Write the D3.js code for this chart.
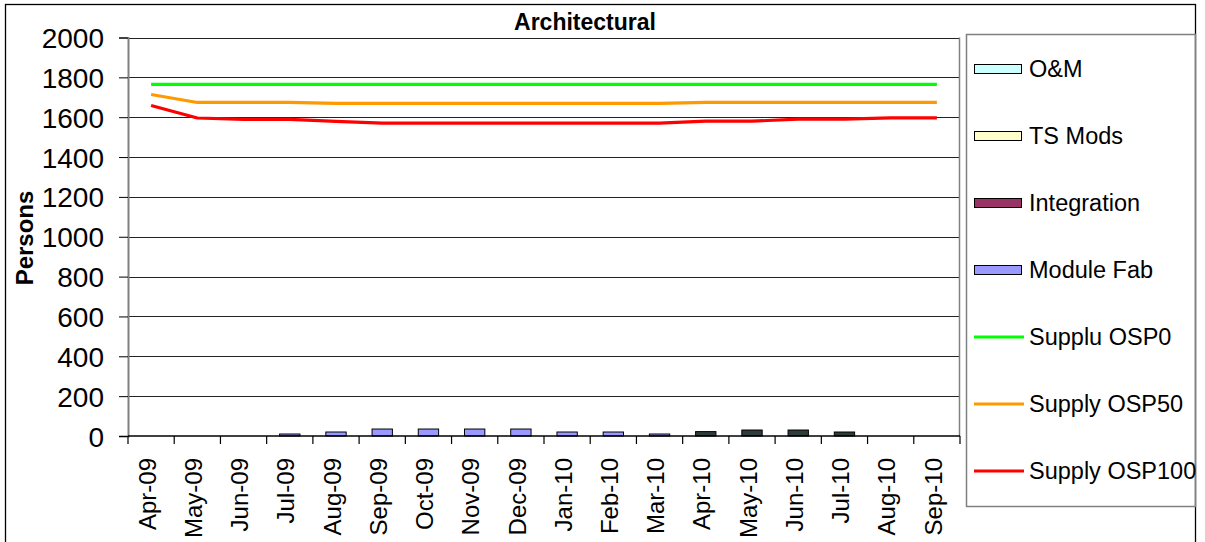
<!DOCTYPE html>
<html>
<head>
<meta charset="utf-8">
<script src="https://cdn.jsdelivr.net/npm/d3@7"></script>
<style>
  body { margin: 0; background: #fff; }
  svg text { font-family: "Liberation Sans", Arial, sans-serif; fill: #000; }
</style>
</head>
<body>
<div id="chart"></div>
<script>
// data
var months = ["Apr-09", "May-09", "Jun-09", "Jul-09", "Aug-09", "Sep-09", "Oct-09", "Nov-09", "Dec-09",
  "Jan-10", "Feb-10", "Mar-10", "Apr-10", "May-10", "Jun-10", "Jul-10", "Aug-10", "Sep-10"];
var omVals        = [0, 0, 0, 0, 0, 0, 0, 0, 0, 0, 0, 0, 0, 0, 0, 0, 0, 0];
var tsModsVals    = [0, 0, 0, 0, 0, 0, 0, 0, 0, 0, 0, 0, 0, 0, 0, 0, 0, 0];
var integVals     = [0, 0, 0, 0, 0, 0, 0, 0, 0, 0, 0, 0, 0, 0, 0, 0, 0, 0];
var moduleFabVals = [0, 0, 0, 10, 20, 35, 35, 35, 35, 20, 20, 10, 0, 0, 0, 0, 0, 0];
var otherVals     = [0, 0, 0, 0, 0, 0, 0, 0, 0, 0, 0, 0, 22, 30, 30, 20, 0, 0];
var osp0Vals   = [1765, 1765, 1765, 1765, 1765, 1765, 1765, 1765, 1765, 1765, 1765, 1765, 1765, 1765, 1765, 1765, 1765, 1765];
var osp50Vals  = [1714, 1674, 1674, 1674, 1669, 1669, 1669, 1669, 1669, 1669, 1669, 1669, 1674, 1674, 1674, 1674, 1674, 1674];
var osp100Vals = [1659, 1596, 1589, 1589, 1579, 1570, 1570, 1570, 1570, 1570, 1570, 1570, 1580, 1580, 1590, 1590, 1597, 1597];
var yTicks = [0, 200, 400, 600, 800, 1000, 1200, 1400, 1600, 1800, 2000];

var svgWidth = 1205;
var svgHeight = 542;
var plot = { left: 128, right: 960, top: 37.5, bottom: 436 };

var svg = d3.select("#chart")
  .append("svg")
  .attr("width", svgWidth)
  .attr("height", svgHeight);

// outer chart border
svg.append("rect")
  .attr("x", 5.5).attr("y", 4.5)
  .attr("width", 1190).attr("height", 600)
  .attr("fill", "none").attr("stroke", "#000").attr("stroke-width", 1.3);

var x = d3.scaleBand()
  .domain(months)
  .range([plot.left, plot.right])
  .paddingInner(0).paddingOuter(0);

var y = d3.scaleLinear()
  .domain([0, 2000])
  .range([plot.bottom, plot.top]);

// gridlines
svg.append("g")
  .selectAll("line")
  .data(yTicks.filter(d => d > 0))
  .enter()
  .append("line")
  .attr("x1", plot.left).attr("x2", plot.right)
  .attr("y1", d => Math.round(y(d)) + 0.5).attr("y2", d => Math.round(y(d)) + 0.5)
  .attr("stroke", "#222").attr("stroke-width", 1);

// plot area right border
svg.append("line")
  .attr("x1", plot.right - 0.5).attr("x2", plot.right - 0.5)
  .attr("y1", y(2000)).attr("y2", plot.bottom)
  .attr("stroke", "#808080").attr("stroke-width", 1.5);

// stacked bars
var barKeys = ["om", "ts", "integ", "fab", "other"];
var barColors = { om: "#CCFFFF", ts: "#FFFFCC", integ: "#993366", fab: "#9999FF", other: "#2f3c3c" };
var table = months.map(function(m, i) {
  return { month: m, om: omVals[i], ts: tsModsVals[i], integ: integVals[i], fab: moduleFabVals[i], other: otherVals[i] };
});
var stacked = d3.stack().keys(barKeys)(table);
var barW = x.bandwidth() * 0.44;

svg.append("g")
  .selectAll("g")
  .data(stacked)
  .enter()
  .append("g")
  .attr("fill", d => barColors[d.key])
  .selectAll("rect")
  .data(d => d.filter(s => s[1] - s[0] > 0))
  .enter()
  .append("rect")
  .attr("x", d => x(d.data.month) + (x.bandwidth() - barW) / 2)
  .attr("y", d => y(d[1]))
  .attr("width", barW)
  .attr("height", d => y(d[0]) - y(d[1]))
  .attr("stroke", "#000")
  .attr("stroke-width", 1);

// supply lines
var lineSeries = [
  { vals: osp0Vals, color: "#00FF00" },
  { vals: osp50Vals, color: "#FF9900" },
  { vals: osp100Vals, color: "#FF0000" }
];
var line = d3.line()
  .x((d, i) => x(months[i]) + x.bandwidth() / 2)
  .y(d => y(d));

svg.append("g")
  .selectAll("path")
  .data(lineSeries)
  .enter()
  .append("path")
  .attr("d", d => line(d.vals))
  .attr("fill", "none")
  .attr("stroke", d => d.color)
  .attr("stroke-width", 3.2)
  .attr("stroke-linejoin", "round");

// y axis
var leftAxis = d3.axisLeft(y).tickValues(yTicks).tickSize(9).tickPadding(15).tickFormat(d3.format("d"));
var yAxisG = svg.append("g")
  .attr("transform", `translate(${plot.left}, 0)`)
  .call(leftAxis);
yAxisG.select(".domain").attr("stroke", "#808080").attr("stroke-width", 2);
yAxisG.selectAll(".tick line").attr("stroke", "#000");
yAxisG.selectAll("text")
  .style("font-size", "28px")
  .attr("dy", "0.36em");

// x axis baseline and ticks at category edges
svg.append("line")
  .attr("x1", plot.left).attr("x2", plot.right)
  .attr("y1", plot.bottom).attr("y2", plot.bottom)
  .attr("stroke", "#000").attr("stroke-width", 1.3);

var edges = months.map(m => x(m)).concat([plot.right]);
svg.append("g")
  .selectAll("line")
  .data(edges)
  .enter()
  .append("line")
  .attr("x1", d => d).attr("x2", d => d)
  .attr("y1", plot.bottom).attr("y2", plot.bottom + 8)
  .attr("stroke", "#000").attr("stroke-width", 1.2);

svg.append("g")
  .selectAll("text")
  .data(months)
  .enter()
  .append("text")
  .attr("transform", d => `translate(${x(d) + x.bandwidth() / 2 - 4}, 458) rotate(-90)`)
  .attr("dy", "0.36em")
  .style("text-anchor", "end")
  .style("font-size", "24px")
  .text(d => d);

// title and axis label
svg.append("text")
  .attr("x", 585).attr("y", 30)
  .style("text-anchor", "middle")
  .style("font-size", "23px")
  .style("font-weight", "bold")
  .text("Architectural");

svg.append("text")
  .attr("transform", "translate(33, 238) rotate(-90)")
  .style("text-anchor", "middle")
  .style("font-size", "24px")
  .style("font-weight", "bold")
  .text("Persons");

// legend
svg.append("rect")
  .attr("x", 966.5).attr("y", 34.5)
  .attr("width", 229).attr("height", 472)
  .attr("fill", "none").attr("stroke", "#808080").attr("stroke-width", 1.5);

var legendItems = [
  { name: "O&M", type: "bar", color: barColors.om },
  { name: "TS Mods", type: "bar", color: barColors.ts },
  { name: "Integration", type: "bar", color: barColors.integ },
  { name: "Module Fab", type: "bar", color: barColors.fab },
  { name: "Supplu OSP0", type: "line", color: "#00FF00" },
  { name: "Supply OSP50", type: "line", color: "#FF9900" },
  { name: "Supply OSP100", type: "line", color: "#FF0000" }
];

var legend = svg.append("g")
  .selectAll("g")
  .data(legendItems)
  .enter()
  .append("g")
  .attr("transform", (d, i) => `translate(0, ${69 + i * 67})`);

legend.filter(d => d.type === "bar")
  .append("rect")
  .attr("x", 974.5).attr("y", -4.5)
  .attr("width", 47).attr("height", 9)
  .attr("fill", d => d.color)
  .attr("stroke", "#000").attr("stroke-width", 1);

legend.filter(d => d.type === "line")
  .append("line")
  .attr("x1", 974).attr("x2", 1024)
  .attr("y1", 0).attr("y2", 0)
  .attr("stroke", d => d.color).attr("stroke-width", 3);

legend.append("text")
  .attr("x", 1029).attr("y", 0)
  .attr("dy", "0.36em")
  .style("font-size", "23.5px")
  .text(d => d.name);
</script>
</body>
</html>
